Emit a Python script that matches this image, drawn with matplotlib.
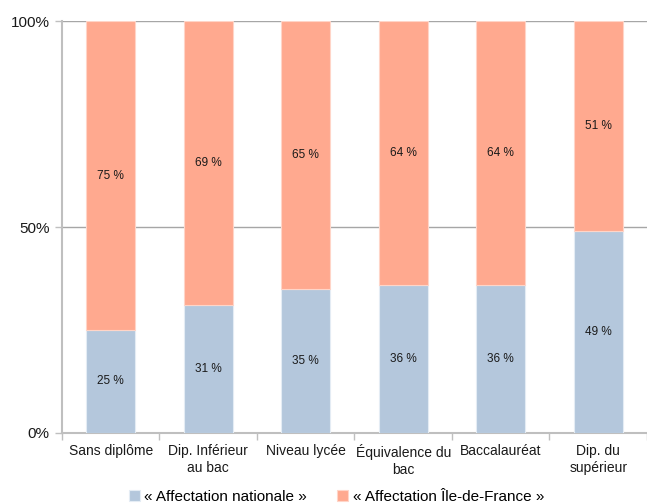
import numpy as np
import matplotlib.pyplot as plt
from matplotlib.ticker import FuncFormatter
plt.rcParams['font.family'] = ['Liberation Sans', 'DejaVu Sans']

categories = ['Sans diplôme', 'Dip. Inférieur\nau bac', 'Niveau lycée',
              'Équivalence du\nbac', 'Baccalauréat', 'Dip. du\nsupérieur']
nationale = [25, 31, 35, 36, 36, 49]
idf = [75, 69, 65, 64, 64, 51]

c_nat = '#B4C7DC'
c_idf = '#FFA98F'

fig = plt.figure(figsize=(6.47, 5.04), dpi=100)
ax = fig.add_axes([0.0958, 0.1409, 0.9042, 0.8174])

x = np.arange(len(categories))
b1 = ax.bar(x, nationale, width=0.5, color=c_nat, edgecolor='#E4ECF4', linewidth=0.8,
            label='« Affectation nationale »', zorder=3)
b2 = ax.bar(x, idf, width=0.5, bottom=nationale, color=c_idf, edgecolor='#FFD5C8',
            linewidth=0.8, label='« Affectation Île-de-France »', zorder=3)

for i in range(len(categories)):
    ax.text(x[i], nationale[i] / 2, '%d %%' % nationale[i], ha='center', va='center',
            fontsize=8.5, color='#1a1a1a', zorder=4)
    ax.text(x[i], nationale[i] + idf[i] / 2, '%d %%' % idf[i], ha='center', va='center',
            fontsize=8.5, color='#1a1a1a', zorder=4)

ax.set_xlim(-0.5, len(categories) - 0.5)
ax.set_ylim(0, 100)
ax.set_yticks([0, 50, 100])
ax.yaxis.set_major_formatter(FuncFormatter(lambda v, p: '%d%%' % v))
ax.grid(axis='y', color='#A6A6A6', linewidth=1, zorder=0)

ax.set_xticks(x)
ax.set_xticklabels(categories, fontsize=10, color='#1a1a1a', linespacing=1.3)
ax.set_xticks(np.arange(len(categories) + 1) - 0.5, minor=True)
ax.tick_params(axis='x', which='major', length=0, pad=8)
ax.tick_params(axis='x', which='minor', length=5, color='#BFBFBF', width=1)
ax.tick_params(axis='y', length=5, color='#BFBFBF', width=1, labelsize=11, labelcolor='#1a1a1a', pad=4)

for s in ['top', 'right']:
    ax.spines[s].set_visible(False)
ax.spines['left'].set_color('#BFBFBF')
ax.spines['left'].set_linewidth(1.5)
ax.spines['bottom'].set_color('#BFBFBF')
ax.spines['bottom'].set_linewidth(1.5)

fig.legend(handles=[b1, b2], loc='lower center', bbox_to_anchor=(0.52, -0.027), ncol=2,
           frameon=False, fontsize=11, handlelength=0.7, handleheight=0.7,
           handletextpad=0.3, columnspacing=2.0)

fig.savefig('out.png', dpi=100)
